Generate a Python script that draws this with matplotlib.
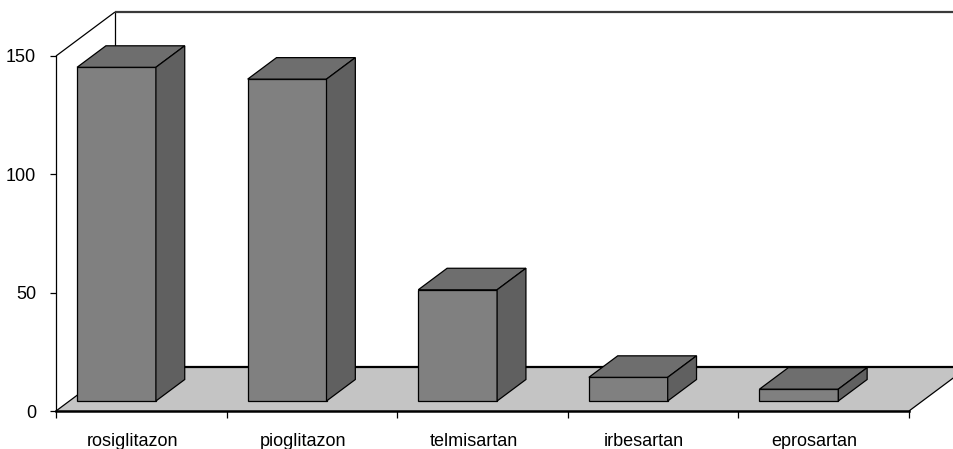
import matplotlib
matplotlib.use('Agg')
import matplotlib.pyplot as plt
from matplotlib.patches import Polygon

categories = ['rosiglitazon', 'pioglitazon', 'telmisartan', 'irbesartan', 'eprosartan']
values = [141, 136, 47, 10, 5]
yticks = [0, 50, 100, 150]

FONT = ['Liberation Sans', 'DejaVu Sans']

W, H = 954, 449
fig = plt.figure(figsize=(W / 100, H / 100), dpi=100)
px0, px1, py0, py1 = 56, 909, 411, 56
ax = fig.add_axes([px0 / W, (H - py0) / H, (px1 - px0) / W, (py0 - py1) / H])
n = len(categories)
ymax = 150
ax.set_xlim(0, n)
ax.set_ylim(0, ymax)

# oblique depth offsets in data units
DX = 59 / ((px1 - px0) / n)
DY = 44 / ((py0 - py1) / ymax)

# floor
floor = Polygon([(0, 0), (n, 0), (n + DX, DY), (DX, DY)], closed=True,
                facecolor='#c4c4c4', edgecolor='none', clip_on=False, zorder=1)
ax.add_patch(floor)
kw = dict(clip_on=False, solid_capstyle='butt')
ax.plot([DX, n + DX], [DY, DY], color='black', lw=1.6, zorder=2, **kw)
ax.plot([0, DX], [0, DY], color='black', lw=0.9, zorder=2, **kw)
ax.plot([n, n + DX], [0, DY], color='black', lw=0.9, zorder=2, **kw)
# back wall
ax.plot([DX, DX], [DY, ymax + DY], color='black', lw=0.9, zorder=2, **kw)
ax.plot([DX, n + 2 * DX], [ymax + DY, ymax + DY], color='#3a3a3a', lw=1.6, zorder=2, **kw)
ax.plot([0, DX], [ymax, ymax + DY], color='black', lw=0.9, zorder=2, **kw)

# bars
d0 = 10 / 44
bd = 21.5 / 44
left_off = 0.045
bw = 0.462
for i, v in enumerate(values):
    L = i + left_off + d0 * DX
    R = L + bw
    B = d0 * DY
    T = B + v
    ox, oy = bd * DX, bd * DY
    front = Polygon([(L, B), (R, B), (R, T), (L, T)], facecolor='#808080')
    top = Polygon([(L, T), (R, T), (R + ox, T + oy), (L + ox, T + oy)], facecolor='#6e6e6e')
    side = Polygon([(R, B), (R + ox, B + oy), (R + ox, T + oy), (R, T)], facecolor='#606060')
    for p in (front, top, side):
        p.set_edgecolor('black')
        p.set_linewidth(0.9)
        p.set_clip_on(False)
        p.set_zorder(3)
        ax.add_patch(p)

# axes styling
for s in ('top', 'right'):
    ax.spines[s].set_visible(False)
ax.spines['left'].set_linewidth(0.9)
ax.spines['bottom'].set_linewidth(1.8)
ax.spines['bottom'].set_zorder(2.5)
ax.spines['left'].set_zorder(2.5)
ax.set_yticks(yticks)
ax.set_yticklabels([str(t) for t in yticks], family=FONT, fontsize=13)
ax.tick_params(axis='y', length=4.3, width=0.9, pad=10, direction='out')
for lbl in ax.get_yticklabels():
    lbl.set_verticalalignment('center_baseline')
ax.set_xticks(range(n + 1))
ax.set_xticklabels([])
ax.tick_params(axis='x', which='major', length=5, width=0.9, direction='out')
ax.set_xticks([i + 0.5 - 0.053 for i in range(n)], minor=True)
ax.set_xticklabels(categories, minor=True, family=FONT, fontsize=13)
ax.tick_params(axis='x', which='minor', length=0, pad=16)
ax.patch.set_visible(False)

fig.savefig('out.png', dpi=100)
